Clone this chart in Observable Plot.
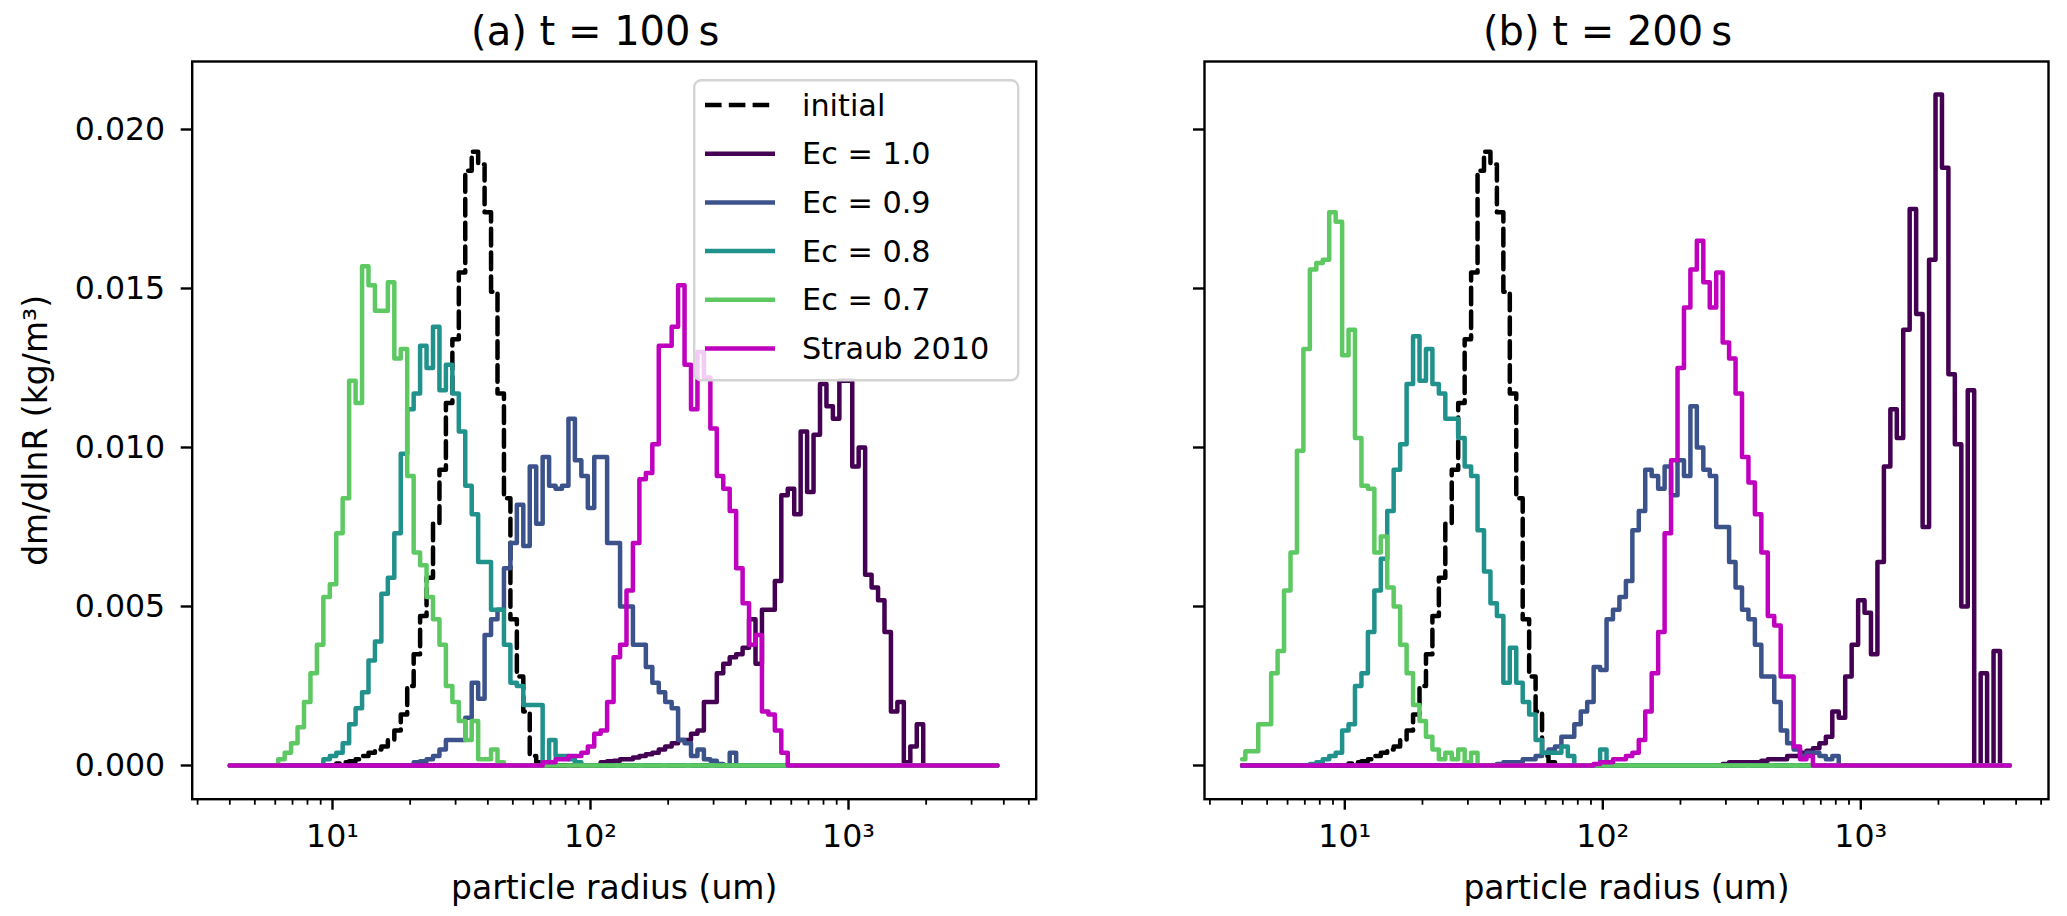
<!DOCTYPE html>
<html>
<head>
<meta charset="utf-8">
<script src="https://cdn.jsdelivr.net/npm/d3@7"></script>
<script src="https://cdn.jsdelivr.net/npm/@observablehq/plot@0.6"></script>
<style>
  body { margin: 0; background: white; }
  #chart { position: relative; width: 2067px; height: 916px; font-family: 'DejaVu Sans', sans-serif; }
  #chart > div, #chart > svg { position: absolute; top: 0; }
</style>
</head>
<body>
<div id="chart"></div>
<script>
// bin radii (um), 40 bins per decade
const radius = [
  4.000, 4.237, 4.488, 4.754, 5.036, 5.334, 5.650, 5.985, 6.340, 6.715,
  7.113, 7.534, 7.981, 8.454, 8.955, 9.486, 10.05, 10.64, 11.27, 11.94,
  12.65, 13.40, 14.19, 15.03, 15.92, 16.87, 17.87, 18.93, 20.05, 21.24,
  22.49, 23.83, 25.24, 26.73, 28.32, 30.00, 31.77, 33.66, 35.65, 37.76,
  40.00, 42.37, 44.88, 47.54, 50.36, 53.34, 56.50, 59.85, 63.40, 67.15,
  71.13, 75.34, 79.81, 84.54, 89.55, 94.86, 100.5, 106.4, 112.7, 119.4,
  126.5, 134.0, 141.9, 150.3, 159.2, 168.7, 178.7, 189.3, 200.5, 212.4,
  224.9, 238.3, 252.4, 267.3, 283.2, 300.0, 317.7, 336.6, 356.5, 377.6,
  400.0, 423.7, 448.8, 475.4, 503.6, 533.4, 565.0, 598.5, 634.0, 671.5,
  711.3, 753.4, 798.1, 845.4, 895.5, 948.6, 1005, 1064, 1127, 1194,
  1265, 1340, 1419, 1503, 1592, 1687, 1787, 1893, 2005, 2124,
  2249, 2383, 2524, 2673, 2832, 3000, 3177, 3366, 3565, 3776
];

const names = ["initial", "Ec = 1.0", "Ec = 0.9", "Ec = 0.8", "Ec = 0.7", "Straub 2010"];
const colors = ["black", "#440154", "#3b528b", "#21918c", "#5ec962", "#bf00bf"];
const titles = ["(a) t = 100\u2009s", "(b) t = 200\u2009s"];
const yTicks = [0, 0.005, 0.010, 0.015, 0.020];
const xTicks = [10, 100, 1000];
const xTickLabels = ["10¹", "10²", "10³"];
const xMinorTicks = [3, 4, 5, 6, 7, 8, 9, 20, 30, 40, 50, 60, 70, 80, 90,
  200, 300, 400, 500, 600, 700, 800, 900, 2000, 3000, 4000, 5000];

// dm/dlnR (kg/m3): index of first bin, then values; other bins are 0
const initialFrom = 17;
const initial = [0.00006, 0.0001, 0.00013, 0.0002, 0.0003, 0.0004, 0.0005, 0.0006, 0.0008, 0.0011,
  0.0016, 0.0025, 0.0035, 0.0047, 0.0059, 0.0076, 0.0093, 0.0114, 0.0134, 0.0155,
  0.0187, 0.0193, 0.0189, 0.0174, 0.0149, 0.0117, 0.0084, 0.0046, 0.0028, 0.0017,
  0.0003, 0.0001];

// t = 100 s
const a10From = 58;
const a10 = [0.0001, 0.00013, 0.00015, 0.0002, 0.0002, 0.00025, 0.0003, 0.00035, 0.0004, 0.0005,
  0.0006, 0.0007, 0.0008, 0.0008, 0.0010, 0.0011, 0.0020, 0.0020, 0.0029, 0.0032,
  0.0034, 0.0035, 0.0037, 0.0046, 0.0032, 0.0049, 0.0049, 0.0058, 0.0085, 0.0087,
  0.0079, 0.0105, 0.0086, 0.0104, 0.0120, 0.0113, 0.0109, 0.0121, 0.0121, 0.0094,
  0.0100, 0.0060, 0.0056, 0.0052, 0.0042, 0.0017, 0.0020, 0.0001, 0.0006, 0.0013];
const a09From = 29;
const a09 = [0.0001, 0.00013, 0.0002, 0.0003, 0.0005, 0.0008, 0.0008, 0.0008, 0.0015, 0.0026,
  0.0021, 0.0041, 0.0046, 0.0049, 0.0062, 0.0070, 0.0082, 0.0069, 0.0094, 0.0076,
  0.0097, 0.0088, 0.0087, 0.0088, 0.0109, 0.0096, 0.0091, 0.0081, 0.0097, 0.0097,
  0.0070, 0.0070, 0.0050, 0.0050, 0.0038, 0.0038, 0.0031, 0.0026, 0.0023, 0.0020,
  0.0018, 0.0008, 0.0007, 0.0003, 0.0005, 0.0002, 0.00015, 0.00005, 0, 0.0004];
const a08From = 15;
const a08 = [0.0002, 0.0003, 0.0004, 0.0007, 0.0013, 0.0018, 0.0023, 0.0033, 0.0039, 0.0054,
  0.0059, 0.0073, 0.0098, 0.0112, 0.0117, 0.0132, 0.0125, 0.0138, 0.0118, 0.0126,
  0.0117, 0.0105, 0.0088, 0.0079, 0.0064, 0.0064, 0.0049, 0.0049, 0.0038, 0.0026,
  0.0025, 0.0019, 0.0019, 0.0019, 0.0001, 0.0008, 0.0003, 0.0003, 0.0002, 0.0001];
const a07From = 8;
const a07 = [0.0002, 0.0004, 0.0007, 0.0012, 0.0020, 0.0029, 0.0038, 0.0053, 0.0057, 0.0073,
  0.0084, 0.0121, 0.0114, 0.0157, 0.0151, 0.0143, 0.0143, 0.0152, 0.0128, 0.0131,
  0.0091, 0.0067, 0.0063, 0.0053, 0.0046, 0.0038, 0.0025, 0.0020, 0.0014, 0.0008,
  0.0014, 0.0002, 0.0002, 0.0005, 0.0001];
const aStraubFrom = 49;
const aStraub = [0.0001, 0.0001, 0.0002, 0.0002, 0.0003, 0.0003, 0.0004, 0.0006, 0.0010, 0.0011,
  0.0020, 0.0034, 0.0038, 0.0055, 0.0070, 0.0090, 0.0092, 0.0101, 0.0132, 0.0132,
  0.0138, 0.0151, 0.0126, 0.0112, 0.0130, 0.0122, 0.0106, 0.0091, 0.0087, 0.0080,
  0.0062, 0.0051, 0.0038, 0.0041, 0.0017, 0.0016, 0.0011, 0.0004];

// t = 200 s
const b10From = 75;
const b10 = [0.00005, 0.0001, 0.0001, 0.0001, 0.0001, 0.0001, 0.00015, 0.0002, 0.0002, 0.0002,
  0.0003, 0.0003, 0.0004, 0.00046, 0.00054, 0.0007, 0.0009, 0.0017, 0.0015, 0.0028,
  0.0038, 0.0052, 0.0048, 0.0035, 0.0064, 0.0094, 0.0112, 0.0103, 0.0137, 0.0175,
  0.0142, 0.0075, 0.0159, 0.0211, 0.0188, 0.0123, 0.0101, 0.0050, 0.0118, 0,
  0.0029, 0, 0.0036];
const b09From = 40;
const b09 = [0.00005, 0.0001, 0.0001, 0.0001, 0.0002, 0.0002, 0.0003, 0.0004, 0.0005, 0.0006,
  0.0009, 0.0009, 0.0013, 0.0017, 0.0020, 0.0031, 0.0030, 0.0046, 0.0049, 0.0053,
  0.0058, 0.0074, 0.0080, 0.0093, 0.0091, 0.0087, 0.0094, 0.0085, 0.0096, 0.0091,
  0.0113, 0.0100, 0.0093, 0.0091, 0.0075, 0.0075, 0.0064, 0.0056, 0.0049, 0.0046,
  0.0038, 0.0028, 0.0028, 0.0020, 0.0011, 0.0007, 0.0005, 0.0003, 0.0004, 0.0004,
  0.0003, 0.0002, 0.0003];
const b08From = 11;
const b08 = [0.00005, 0.0001, 0.0002, 0.0003, 0.0004, 0.0011, 0.0013, 0.0025, 0.0029, 0.0042,
  0.0055, 0.0065, 0.0080, 0.0093, 0.0101, 0.0120, 0.0135, 0.0121, 0.0131, 0.0120,
  0.0117, 0.0109, 0.0109, 0.0103, 0.0094, 0.0091, 0.0074, 0.0061, 0.0051, 0.0047,
  0.0026, 0.0037, 0.0026, 0.0020, 0.0016, 0.0008, 0.0004, 0.0004, 0.0004, 0.0006,
  0.0003, 0, 0, 0, 0, 0.0005];
const b07From = 0;
const b07 = [0.0002, 0.00045, 0.00045, 0.0013, 0.0013, 0.0029, 0.0036, 0.0055, 0.0067, 0.0099,
  0.0131, 0.0156, 0.0158, 0.0159, 0.0174, 0.0171, 0.0129, 0.0137, 0.0103, 0.0088,
  0.0087, 0.0067, 0.0072, 0.0056, 0.0050, 0.0038, 0.0029, 0.0019, 0.0014, 0.0009,
  0.0005, 0.0002, 0.0004, 0.0002, 0.0005, 0.0001, 0.0004];
const bStraubFrom = 55;
const bStraub = [0.00005, 0.0001, 0.0001, 0.0002, 0.0002, 0.0003, 0.0004, 0.0008, 0.0017, 0.0029,
  0.0042, 0.0073, 0.0096, 0.0125, 0.0144, 0.0156, 0.0165, 0.0152, 0.0144, 0.0155,
  0.0133, 0.0128, 0.0117, 0.0097, 0.0089, 0.0079, 0.0067, 0.0047, 0.0044, 0.0028,
  0.0028, 0.0006, 0.0002, 0.0003];

function bins(from, values) {
  return radius.map((r, i) => ({r, v: i >= from && i < from + values.length ? values[i - from] : 0}));
}

const panelA = [[initialFrom, initial], [a10From, a10], [a09From, a09], [a08From, a08], [a07From, a07], [aStraubFrom, aStraub]];
const panelB = [[initialFrom, initial], [b10From, b10], [b09From, b09], [b08From, b08], [b07From, b07], [bStraubFrom, bStraub]];

function panel(title, lines, left, width, marginLeft, marginRight, yLabels) {
  const marks = [];
  lines.forEach(([from, values], i) => {
    marks.push(Plot.line(bins(from, values), {
      x: "r", y: "v", curve: "step", stroke: colors[i], strokeWidth: 4.5,
      strokeDasharray: i === 0 ? "16.6,7.2" : undefined
    }));
  });
  marks.push(
    Plot.frame({stroke: "black", strokeWidth: 2.4}),
    Plot.axisY(yTicks, {tickSize: 11, tickPadding: 16, strokeWidth: 2.4, fontSize: 31.6, label: null,
      tickFormat: yLabels ? d3.format(".3f") : () => ""}),
    Plot.axisX(xMinorTicks, {tickSize: 6, strokeWidth: 1.8, tickFormat: () => "", label: null}),
    Plot.axisX(xTicks, {tickSize: 11, tickPadding: 14, strokeWidth: 2.4, fontSize: 31.6, label: null,
      tickFormat: d => xTickLabels[xTicks.indexOf(d)]}),
    Plot.text([title], {text: d => d, frameAnchor: "top", dx: -19, dy: -29.3, fontSize: 40,
      textAnchor: "middle", lineAnchor: "middle"}),
    Plot.text(["particle radius (um)"], {text: d => d, frameAnchor: "bottom", dy: 89.3, fontSize: 33,
      textAnchor: "middle", lineAnchor: "middle"})
  );
  if (yLabels) {
    marks.push(Plot.text(["dm/dlnR (kg/m³)"], {text: d => d, frameAnchor: "left", dx: -155.7, rotate: -90,
      fontSize: 33, textAnchor: "middle", lineAnchor: "middle"}));
  }
  const chart = Plot.plot({
    width, height: 916,
    marginTop: 61, marginBottom: 117.3, marginLeft, marginRight,
    x: {type: "log", domain: [2.859, 5340]},
    y: {domain: [-0.00106, 0.022138]},
    style: {fontFamily: "'DejaVu Sans', sans-serif", color: "black", background: "transparent", overflow: "visible"},
    marks
  });
  const holder = d3.select("#chart").append("div").style("left", left + "px").style("width", width + "px");
  holder.append(() => chart);
}

panel(titles[0], panelA, 0, 1040, 191.7, 4.3, true);
panel(titles[1], panelB, 1040, 1027, 164, 19, false);

// legend inside panel (a)
const legend = d3.select("#chart").append("svg")
  .style("left", "693px").style("top", "79px")
  .attr("width", 328).attr("height", 304);
legend.append("rect").attr("x", 1.2).attr("y", 1.2).attr("width", 324).attr("height", 300).attr("rx", 7)
  .attr("fill", "white").attr("fill-opacity", 0.8).attr("stroke", "#d4d4d4").attr("stroke-width", 2.4);
names.forEach((n, i) => {
  const y = 26 + i * 48.7;
  legend.append("line").attr("x1", 12).attr("x2", 82).attr("y1", y).attr("y2", y)
    .attr("stroke", colors[i]).attr("stroke-width", 4.5)
    .attr("stroke-dasharray", i === 0 ? "16.6,7.2" : null);
  legend.append("text").attr("x", 109).attr("y", y).attr("dy", "0.35em")
    .attr("font-size", 30.3).attr("font-family", "'DejaVu Sans', sans-serif").attr("fill", "black").text(n);
});
</script>
</body>
</html>
